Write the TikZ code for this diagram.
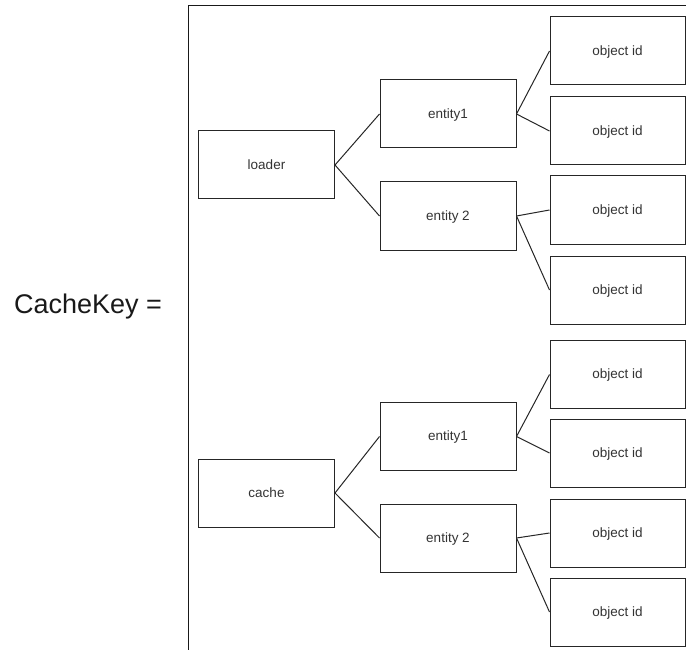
\documentclass[tikz,border=0pt]{standalone}
\usepackage{fontspec}
\setmainfont{Liberation Sans}
\begin{document}
\begin{tikzpicture}[x=1pt,y=-1pt,
  box/.style={draw=black!85, line width=1pt, minimum width=136pt, minimum height=68pt,
    inner sep=0pt, text height=10pt, text depth=1.4pt,
    font=\fontsize{13.5}{16}\selectfont, text=black!80},
  oid/.style={box, minimum width=135pt},
  link/.style={draw=black!85, line width=1pt}]
\useasboundingbox (0,0) rectangle (686,650);
\clip (0,0) rectangle (686,650);

% outer frame (runs past the page on the right and bottom)
\draw[line width=1pt, black!90] (188,6) rectangle (740,720);

\node[font=\fontsize{27}{32}\selectfont, text=black!90] (key) at (88,307) {CacheKey =};

% loader branch
\node[box] (loader) at (266.5,165) {loader};
\node[box] (la) at (448,114) {entity1};
\node[box] (lb) at (448,216) {entity 2};
\node[oid] (o1) at (617.5,51) {object id};
\node[oid] (o2) at (617.5,131) {object id};
\node[oid] (o3) at (617.5,210) {object id};
\node[oid] (o4) at (617.5,290) {object id};

% cache branch
\node[box] (cache) at (266.5,493) {cache};
\node[box] (ca) at (448,436.5) {entity1};
\node[box] (cb) at (448,538) {entity 2};
\node[oid] (o5) at (617.5,374.5) {object id};
\node[oid] (o6) at (617.5,453) {object id};
\node[oid] (o7) at (617.5,533) {object id};
\node[oid] (o8) at (617.5,612) {object id};

% connectors
\draw[link] (loader.east) -- (la.west);
\draw[link] (loader.east) -- (lb.west);
\draw[link] (la.east) -- (o1.west);
\draw[link] (la.east) -- (o2.west);
\draw[link] (lb.east) -- (o3.west);
\draw[link] (lb.east) -- (o4.west);
\draw[link] (cache.east) -- (ca.west);
\draw[link] (cache.east) -- (cb.west);
\draw[link] (ca.east) -- (o5.west);
\draw[link] (ca.east) -- (o6.west);
\draw[link] (cb.east) -- (o7.west);
\draw[link] (cb.east) -- (o8.west);
\end{tikzpicture}
\end{document}
